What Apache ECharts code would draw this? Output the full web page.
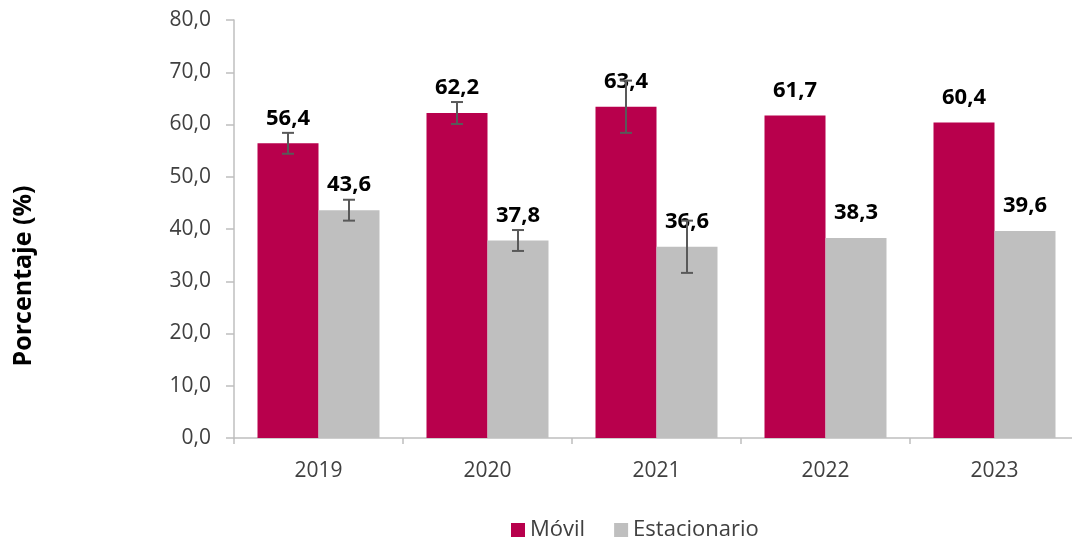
<!DOCTYPE html>
<html>
<head>
<meta charset="utf-8">
<script src="https://cdn.jsdelivr.net/npm/echarts@6/dist/echarts.min.js"></script>
<style>
  html, body { margin: 0; padding: 0; background: #fff; }
  #chart { width: 1072px; height: 538px; }
</style>
</head>
<body>
<div id="chart"></div>
<script>
// datos
const years = ["2019", "2020", "2021", "2022", "2023"];
const movil = [56.4, 62.2, 63.4, 61.7, 60.4];
const estacionario = [43.6, 37.8, 36.6, 38.3, 39.6];
// intervalos de error (+/-), 0 = sin barra
const movilErr = [2.0, 2.1, 5.0, 0, 0];
const estacionarioErr = [2.0, 2.0, 5.0, 0, 0];
const yTicks = [0, 10, 20, 30, 40, 50, 60, 70, 80];

const FONT = "'Open Sans', 'Noto Sans', sans-serif";
const BAR_W = 61;
const fmt = v => v.toFixed(1).replace(".", ",");

const chart = echarts.init(document.getElementById("chart"), null, { renderer: "canvas" });

// dibuja la barra de error centrada en la barra (side = -1 izq, +1 der)
function errorSeries(values, errs, side) {
  return {
    type: "custom",
    z: 5,
    silent: true,
    data: values.map((v, i) => [i, v, errs[i]]),
    renderItem: function (params, api) {
      const err = api.value(2);
      if (!err) return null;
      const i = api.value(0);
      const v = api.value(1);
      const top = api.coord([i, v + err]);
      const bot = api.coord([i, v - err]);
      const x = top[0] + side * BAR_W / 2;
      const cap = 6;
      const style = { stroke: "#595959", lineWidth: 2 };
      return {
        type: "group",
        children: [
          { type: "line", shape: { x1: x, y1: top[1], x2: x, y2: bot[1] }, style },
          { type: "line", shape: { x1: x - cap, y1: top[1], x2: x + cap, y2: top[1] }, style },
          { type: "line", shape: { x1: x - cap, y1: bot[1], x2: x + cap, y2: bot[1] }, style }
        ]
      };
    }
  };
}

const barLabel = {
  show: true,
  position: "top",
  distance: 14,
  color: "#000",
  fontFamily: FONT,
  fontWeight: "bold",
  fontSize: 22,
  formatter: p => fmt(p.value)
};

chart.setOption({
  animation: false,
  textStyle: { fontFamily: FONT },
  grid: { left: 234, top: 20, width: 845, bottom: 100, outerBoundsMode: "none" },
  legend: {
    left: 506,
    top: 514,
    itemWidth: 14,
    itemHeight: 14,
    itemGap: 29,
    icon: "rect",
    textStyle: { fontSize: 22, color: "#404040", fontFamily: FONT },
    data: ["Móvil", "Estacionario"]
  },
  graphic: [
    {
      type: "text",
      x: 24,
      y: 276,
      rotation: Math.PI / 2,
      style: {
        text: "Porcentaje (%)",
        fontSize: 25,
        fontWeight: "bold",
        fontFamily: FONT,
        fill: "#000",
        align: "center",
        verticalAlign: "middle"
      }
    }
  ],
  xAxis: {
    type: "category",
    data: years,
    axisLine: { lineStyle: { color: "#bfbfbf", width: 1.5 } },
    axisTick: { show: true, length: 6, lineStyle: { color: "#bfbfbf", width: 1.5 } },
    axisLabel: { color: "#404040", fontSize: 21, margin: 23, fontFamily: FONT }
  },
  yAxis: {
    type: "value",
    min: yTicks[0],
    max: yTicks[yTicks.length - 1],
    interval: 10,
    splitLine: { show: false },
    axisLine: { show: true, lineStyle: { color: "#bfbfbf", width: 1.5 } },
    axisTick: { show: true, length: 8, lineStyle: { color: "#bfbfbf", width: 1.5 } },
    axisLabel: { color: "#404040", fontSize: 21, margin: 23, fontFamily: FONT, formatter: fmt }
  },
  series: [
    {
      name: "Móvil",
      type: "bar",
      data: movil,
      barWidth: BAR_W,
      barGap: "0%",
      itemStyle: { color: "#B8004C" },
      label: barLabel
    },
    {
      name: "Estacionario",
      type: "bar",
      data: estacionario,
      barWidth: BAR_W,
      barGap: "0%",
      itemStyle: { color: "#BFBFBF" },
      label: barLabel
    },
    errorSeries(movil, movilErr, -1),
    errorSeries(estacionario, estacionarioErr, 1)
  ]
});
</script>
</body>
</html>
